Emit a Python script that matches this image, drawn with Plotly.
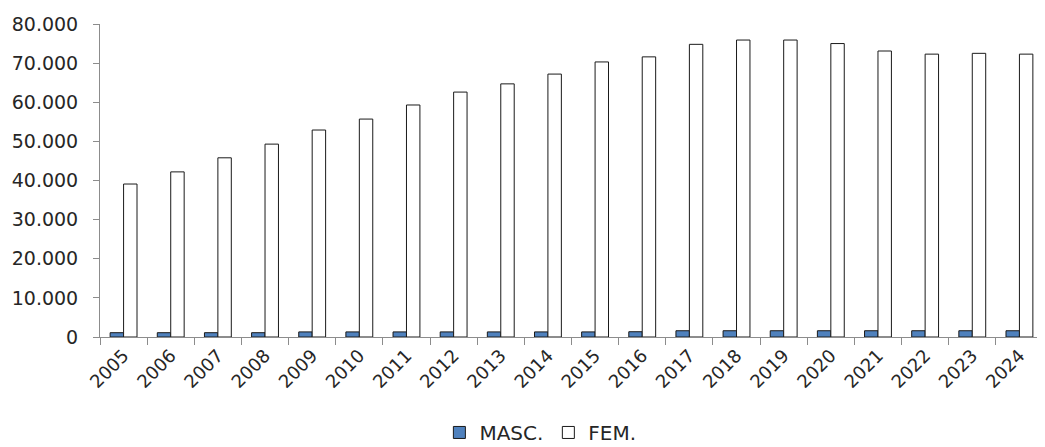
import plotly.graph_objects as go

years = [str(y) for y in range(2005, 2025)]
masc = [1100, 1100, 1100, 1100, 1300, 1300, 1300, 1300, 1300, 1300,
        1300, 1350, 1600, 1600, 1600, 1600, 1600, 1600, 1600, 1600]
fem = [39100, 42200, 45800, 49300, 52900, 55700, 59300, 62600, 64700, 67200,
       70300, 71600, 74800, 75900, 75900, 75000, 73100, 72300, 72500, 72300]
y_ticks = [0, 10000, 20000, 30000, 40000, 50000, 60000, 70000, 80000]

font = "DejaVu Sans"

fig = go.Figure()
fig.add_trace(go.Bar(x=years, y=masc, name="MASC.",
                     marker=dict(color="#4F81BD", line=dict(color="#1a1a1a", width=1))))
fig.add_trace(go.Bar(x=years, y=fem, name="FEM.",
                     marker=dict(color="white", line=dict(color="#1a1a1a", width=1))))

# page body has an 8px margin, so the figure is a bit smaller than the window
fig.update_layout(
    width=1037, height=447,
    margin=dict(l=92, r=2, t=16, b=118, autoexpand=False),
    plot_bgcolor="white", paper_bgcolor="white",
    barmode="group", bargap=0.43, bargroupgap=0,
    separators=",.",
    font=dict(family=font, size=19, color="#262626"),
    showlegend=True,
    legend=dict(orientation="h", x=0.467, xanchor="center", y=-0.305, yanchor="middle",
                font=dict(size=20), traceorder="normal", itemwidth=30),
)
fig.update_xaxes(showline=True, linecolor="#8c8c8c", linewidth=1,
                 ticks="outside", ticklen=7, tickcolor="#8c8c8c",
                 tickson="boundaries", tickangle=-45, showgrid=False,
                 tickfont=dict(size=18), automargin=False)
fig.update_yaxes(range=[0, 80000], tickvals=y_ticks, tickformat=",d",
                 showline=True, linecolor="#8c8c8c", linewidth=1,
                 ticks="outside", ticklen=6, tickcolor="#8c8c8c",
                 ticklabelstandoff=11,
                 showgrid=False, zeroline=False, automargin=False)

fig.write_html("out.html")
